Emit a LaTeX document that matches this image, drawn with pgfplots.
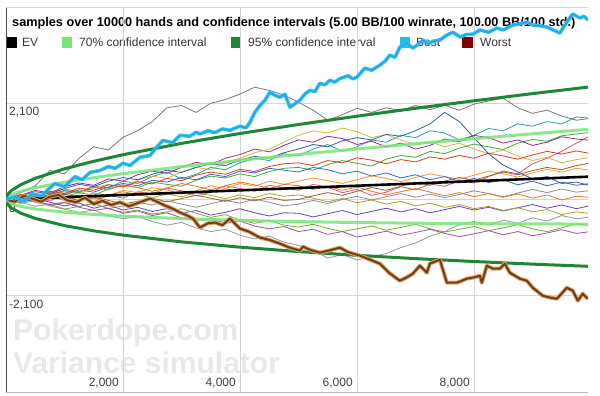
\documentclass[border=0pt]{standalone}
\usepackage{fontspec}
\setmainfont{Liberation Sans}
\usepackage{pgfplots}
\pgfplotsset{compat=1.18}
\definecolor{ci70}{RGB}{120,228,120}
\definecolor{ci95}{RGB}{30,135,55}
\definecolor{bestc}{RGB}{45,195,235}
\definecolor{bestleg}{RGB}{30,190,240}
\definecolor{worstc}{RGB}{115,60,20}
\definecolor{worsth}{RGB}{220,165,105}
\definecolor{worstleg}{RGB}{128,0,0}
\definecolor{gridc}{RGB}{212,212,212}
\definecolor{c1}{RGB}{120,120,120}
\definecolor{c2}{RGB}{40,160,170}
\definecolor{c3}{RGB}{60,170,60}
\definecolor{c4}{RGB}{225,80,120}
\definecolor{c5}{RGB}{150,40,150}
\definecolor{c6}{RGB}{200,190,60}
\definecolor{c7}{RGB}{245,150,40}
\definecolor{c8}{RGB}{60,100,200}
\definecolor{c9}{RGB}{140,140,140}
\definecolor{c10}{RGB}{225,120,40}
\definecolor{c11}{RGB}{110,60,190}
\definecolor{c12}{RGB}{170,160,40}
\definecolor{c13}{RGB}{110,175,40}
\definecolor{c14}{RGB}{150,150,150}
\definecolor{c15}{RGB}{160,80,160}
\definecolor{c16}{RGB}{215,60,30}
\definecolor{c17}{RGB}{50,95,150}
\definecolor{c18}{RGB}{150,95,50}
\begin{document}
\begin{tikzpicture}
\useasboundingbox (0pt,0pt) rectangle (600pt,396pt);
\node[anchor=base west, inner sep=0, font=\fontsize{12.7}{14}\selectfont\bfseries] at (12pt,369pt) {samples over 10000 hands and confidence intervals (5.00 BB/100 winrate, 100.00 BB/100 std.)};
\fill[black] (7pt,348pt) rectangle (17pt,359pt);
\node[anchor=base west, inner sep=0, font=\fontsize{12}{14}\selectfont, text=black!80] at (22pt,349pt) {EV};
\fill[ci70] (62pt,348pt) rectangle (72pt,359pt);
\node[anchor=base west, inner sep=0, font=\fontsize{12}{14}\selectfont, text=black!80] at (79pt,349pt) {70\% confidence interval};
\fill[ci95] (231pt,348pt) rectangle (241pt,359pt);
\node[anchor=base west, inner sep=0, font=\fontsize{12}{14}\selectfont, text=black!80] at (248pt,349pt) {95\% confidence interval};
\fill[bestleg] (400pt,348pt) rectangle (410pt,359pt);
\node[anchor=base west, inner sep=0, font=\fontsize{12}{14}\selectfont, text=black!80] at (416pt,349pt) {Best};
\fill[worstleg] (462pt,348pt) rectangle (473pt,359pt);
\node[anchor=base west, inner sep=0, font=\fontsize{12}{14}\selectfont, text=black!80] at (480pt,349pt) {Worst};
\node[anchor=base west, inner sep=0, font=\fontsize{30}{30}\selectfont\bfseries, text=black!9] at (13pt,55pt) {Pokerdope.com};
\node[anchor=base west, inner sep=0, font=\fontsize{30}{30}\selectfont\bfseries, text=black!9] at (13pt,22pt) {Variance simulator};
\begin{axis}[at={(6pt,4pt)}, anchor=south west, scale only axis, width=582pt, height=385pt,
  xmin=0, xmax=9950, ymin=-4200, ymax=4200,
  axis x line*=bottom, axis y line*=left, axis line style={-},
  x axis line style={draw=gray!55, line width=0.8pt},
  y axis line style={draw=black!70, line width=1pt},
  xtick={2000,4000,6000,8000}, ytick={-2100,0,2100},
  xmajorgrids, ymajorgrids, major grid style={draw=gridc, line width=0.8pt},
  major tick length=0pt,
  tick label style={font=\fontsize{12}{14}\selectfont, text=black!75},
  /pgf/number format/1000 sep={,}, /pgf/number format/assume math mode=true,
  xticklabel style={anchor=base east, inner sep=0pt, xshift=-4pt, yshift=5pt},
  yticklabel style={anchor=north west, inner sep=0pt, xshift=3pt, yshift=-4pt},
  extra y ticks={0}, extra y tick labels={}, extra y tick style={grid style={draw=gray!65, line width=1pt}},
  no markers,
  every axis plot/.append style={line join=round},
  thinl/.style={line width=0.8pt},
]
\draw[gridc, line width=0.8pt] (rel axis cs:0,1) -- (rel axis cs:1,1);
% thin sample lines
\addplot[thinl, c2] coordinates {(0,0)(250,80)(500,-50)(750,100)(1000,200)(1250,150)(1500,300)(1750,250)(2000,400)(2250,350)(2500,500)(2750,600)(3000,450)(3250,550)(3500,700)(3750,650)(4000,800)(4250,900)(4500,850)(4750,1000)(5000,950)(5250,1100)(5500,1200)(5750,1050)(6000,1150)(6250,1300)(6500,1250)(6750,1400)(7000,1350)(7250,1500)(7500,1450)(7750,1300)(8000,1400)(8250,1550)(8500,1500)(8750,1650)(9000,1600)(9250,1700)(9500,1650)(9750,1800)(10000,1772)};
\addplot[thinl, c3] coordinates {(0,0)(250,70)(500,-40)(750,60)(1000,190)(1250,150)(1500,90)(1750,230)(2000,310)(2250,260)(2500,380)(2750,330)(3000,290)(3250,420)(3500,510)(3750,470)(4000,560)(4250,500)(4500,610)(4750,680)(5000,700)(5250,640)(5500,760)(5750,850)(6000,790)(6250,730)(6500,880)(6750,960)(7000,920)(7250,1050)(7500,1000)(7750,1120)(8000,1210)(8250,1150)(8500,1090)(8750,1230)(9000,1310)(9250,1270)(9500,1390)(9750,1430)(10000,1466)};
\addplot[thinl, c4] coordinates {(0,0)(250,-80)(500,40)(750,-30)(1000,110)(1250,60)(1500,-50)(1750,90)(2000,30)(2250,170)(2500,120)(2750,250)(3000,190)(3250,80)(3500,160)(3750,300)(4000,240)(4250,180)(4500,310)(4750,260)(5000,200)(5250,330)(5500,270)(5750,150)(6000,220)(6250,90)(6500,160)(6750,280)(7000,210)(7250,340)(7500,290)(7750,410)(8000,360)(8250,500)(8500,620)(8750,560)(9000,780)(9250,900)(9500,1050)(9750,1230)(10000,1400)};
\addplot[thinl, c5] coordinates {(0,0)(250,90)(500,200)(750,140)(1000,280)(1250,360)(1500,310)(1750,450)(2000,400)(2250,540)(2500,620)(2750,570)(3000,700)(3250,810)(3500,760)(3750,900)(4000,980)(4250,1100)(4500,1040)(4750,1180)(5000,1300)(5250,1250)(5500,1380)(5750,1330)(6000,1200)(6250,1270)(6500,1150)(6750,1230)(7000,1100)(7250,1180)(7500,1320)(7750,1260)(8000,1400)(8250,1350)(8500,1230)(8750,1300)(9000,1180)(9250,1250)(9500,1370)(9750,1320)(10000,1290)};
\addplot[thinl, c6] coordinates {(0,0)(250,50)(500,-40)(750,80)(1000,170)(1250,120)(1500,250)(1750,330)(2000,280)(2250,420)(2500,510)(2750,460)(3000,600)(3250,700)(3500,650)(3750,800)(4000,900)(4250,1020)(4500,1100)(4750,1250)(5000,1400)(5250,1500)(5500,1450)(5750,1560)(6000,1480)(6250,1350)(6500,1420)(6750,1300)(7000,1200)(7250,1260)(7500,1150)(7750,1230)(8000,1100)(8250,1000)(8500,1080)(8750,950)(9000,850)(9250,920)(9500,800)(9750,870)(10000,919)};
\addplot[thinl, c7] coordinates {(0,0)(250,60)(500,130)(750,70)(1000,-20)(1250,50)(1500,140)(1750,90)(2000,200)(2250,150)(2500,260)(2750,210)(3000,120)(3250,190)(3500,300)(3750,240)(4000,350)(4250,290)(4500,400)(4750,330)(5000,400)(5250,470)(5500,410)(5750,350)(6000,430)(6250,520)(6500,460)(6750,390)(7000,480)(7250,560)(7500,500)(7750,440)(8000,530)(8250,620)(8500,560)(8750,490)(9000,580)(9250,660)(9500,600)(9750,680)(10000,634)};
\addplot[thinl, c8] coordinates {(0,0)(250,-50)(500,60)(750,150)(1000,100)(1250,210)(1500,160)(1750,270)(2000,350)(2250,300)(2500,420)(2750,380)(3000,480)(3250,430)(3500,550)(3750,500)(4000,620)(4250,580)(4500,680)(4750,640)(5000,600)(5250,700)(5500,650)(5750,560)(6000,620)(6250,510)(6500,580)(6750,470)(7000,540)(7250,430)(7500,500)(7750,390)(8000,460)(8250,370)(8500,430)(8750,320)(9000,400)(9250,300)(9500,380)(9750,310)(10000,350)};
\addplot[thinl, c9] coordinates {(0,0)(250,40)(500,-60)(750,-130)(1000,-70)(1250,-150)(1500,-90)(1750,-200)(2000,-140)(2250,-60)(2500,-120)(2750,-30)(3000,-100)(3250,-170)(3500,-90)(3750,-20)(4000,-80)(4250,10)(4500,-60)(4750,-140)(5000,-100)(5250,-20)(5500,-90)(5750,0)(6000,70)(6250,-10)(6500,60)(6750,130)(7000,50)(7250,120)(7500,40)(7750,110)(8000,190)(8250,130)(8500,60)(8750,140)(9000,220)(9250,150)(9500,230)(9750,160)(10000,197)};
\addplot[thinl, c10] coordinates {(0,0)(250,90)(500,40)(750,150)(1000,230)(1250,170)(1500,270)(1750,210)(2000,320)(2250,260)(2500,180)(2750,250)(3000,350)(3250,290)(3500,210)(3750,300)(4000,380)(4250,320)(4500,240)(4750,330)(5000,300)(5250,220)(5500,290)(5750,200)(6000,270)(6250,180)(6500,100)(6750,170)(7000,240)(7250,160)(7500,80)(7750,150)(8000,60)(8250,130)(8500,50)(8750,120)(9000,30)(9250,100)(9500,-10)(9750,70)(10000,44)};
\addplot[thinl, c11] coordinates {(0,0)(250,-70)(500,20)(750,-60)(1000,-140)(1250,-80)(1500,-190)(1750,-120)(2000,-230)(2250,-170)(2500,-260)(2750,-200)(3000,-300)(3250,-240)(3500,-340)(3750,-280)(4000,-200)(4250,-290)(4500,-360)(4750,-290)(5000,-300)(5250,-380)(5500,-310)(5750,-240)(6000,-330)(6250,-260)(6500,-190)(6750,-270)(7000,-200)(7250,-290)(7500,-220)(7750,-150)(8000,-230)(8250,-170)(8500,-250)(8750,-180)(9000,-110)(9250,-190)(9500,-120)(9750,-200)(10000,-131)};
\addplot[thinl, c12] coordinates {(0,0)(250,30)(500,110)(750,50)(1000,140)(1250,80)(1500,10)(1750,90)(2000,170)(2250,110)(2500,40)(2750,120)(3000,60)(3250,150)(3500,90)(3750,20)(4000,100)(4250,40)(4500,130)(4750,70)(5000,100)(5250,30)(5500,-50)(5750,20)(6000,-70)(6250,-10)(6500,-100)(6750,-40)(7000,-140)(7250,-80)(7500,-170)(7750,-110)(8000,-200)(8250,-150)(8500,-240)(8750,-180)(9000,-270)(9250,-220)(9500,-330)(9750,-270)(10000,-306)};
\addplot[thinl, c13] coordinates {(0,0)(250,-80)(500,-30)(750,-140)(1000,-210)(1250,-150)(1500,-90)(1750,-200)(2000,-280)(2250,-230)(2500,-320)(2750,-270)(3000,-200)(3250,-300)(3500,-390)(3750,-330)(4000,-450)(4250,-520)(4500,-460)(4750,-560)(5000,-600)(5250,-540)(5500,-630)(5750,-700)(6000,-640)(6250,-580)(6500,-670)(6750,-610)(7000,-540)(7250,-640)(7500,-710)(7750,-650)(8000,-590)(8250,-680)(8500,-620)(8750,-550)(9000,-640)(9250,-700)(9500,-620)(9750,-530)(10000,-569)};
\addplot[thinl, c14] coordinates {(0,0)(250,-60)(500,-150)(750,-100)(1000,-210)(1250,-280)(1500,-230)(1750,-350)(2000,-420)(2250,-370)(2500,-480)(2750,-560)(3000,-500)(3250,-620)(3500,-700)(3750,-650)(4000,-780)(4250,-860)(4500,-800)(4750,-930)(5000,-1000)(5250,-1100)(5500,-1280)(5750,-1200)(6000,-1320)(6250,-1250)(6500,-1180)(6750,-1050)(7000,-950)(7250,-800)(7500,-700)(7750,-550)(8000,-480)(8250,-560)(8500,-450)(8750,-520)(9000,-400)(9250,-470)(9500,-350)(9750,-420)(10000,-380)};
\addplot[thinl, c15] coordinates {(0,0)(250,50)(500,-40)(750,-110)(1000,-60)(1250,-170)(1500,-240)(1750,-190)(2000,-300)(2250,-250)(2500,-350)(2750,-290)(3000,-400)(3250,-460)(3500,-410)(3750,-520)(4000,-470)(4250,-580)(4500,-640)(4750,-590)(5000,-700)(5250,-650)(5500,-760)(5750,-700)(6000,-820)(6250,-760)(6500,-690)(6750,-780)(7000,-720)(7250,-650)(7500,-740)(7750,-810)(8000,-750)(8250,-680)(8500,-770)(8750,-700)(9000,-790)(9250,-730)(9500,-660)(9750,-740)(10000,-700)};
\addplot[thinl, c16] coordinates {(0,0)(250,110)(500,60)(750,180)(1000,130)(1250,250)(1500,200)(1750,320)(2000,270)(2250,390)(2500,340)(2750,460)(3000,410)(3250,530)(3500,600)(3750,550)(4000,660)(4250,610)(4500,720)(4750,780)(5000,800)(5250,740)(5500,850)(5750,800)(6000,910)(6250,860)(6500,780)(6750,870)(7000,820)(7250,930)(7500,880)(7750,960)(8000,900)(8250,1010)(8500,950)(8750,880)(9000,970)(9250,1050)(9500,990)(9750,1060)(10000,1000)};
\addplot[thinl, c17] coordinates {(0,0)(250,80)(500,170)(750,120)(1000,240)(1250,330)(1500,280)(1750,400)(2000,480)(2250,430)(2500,550)(2750,640)(3000,590)(3250,700)(3500,780)(3750,740)(4000,860)(4250,940)(4500,900)(4750,1020)(5000,1100)(5250,1200)(5500,1150)(5750,1280)(6000,1350)(6250,1300)(6500,1420)(6750,1380)(7000,1500)(7250,1650)(7500,1900)(7750,1700)(8000,1350)(8250,1000)(8500,750)(8750,600)(9000,450)(9250,500)(9500,350)(9750,380)(10000,300)};
\addplot[thinl, c18] coordinates {(0,0)(250,-50)(500,40)(750,110)(1000,60)(1250,-30)(1500,50)(1750,-20)(2000,-100)(2250,-40)(2500,30)(2750,-50)(3000,20)(3250,90)(3500,30)(3750,-40)(4000,40)(4250,-30)(4500,50)(4750,-20)(5000,0)(5250,80)(5500,150)(5750,90)(6000,180)(6250,260)(6500,200)(6750,290)(7000,370)(7250,310)(7500,400)(7750,480)(8000,420)(8250,510)(8500,600)(8750,540)(9000,630)(9250,700)(9500,650)(9750,740)(10000,800)};
\addplot[thinl, c1] coordinates {(0,0)(250,150)(500,300)(750,634)(1000,560)(1250,900)(1500,1150)(1750,1080)(2000,1356)(2250,1500)(2500,1700)(2750,2000)(3000,2050)(3250,1900)(3500,2100)(3750,2180)(4000,2300)(4250,2450)(4500,2380)(4750,2280)(5000,2122)(5250,1950)(5500,1728)(5750,1850)(6000,1991)(6250,1900)(6500,2000)(6750,1940)(7000,2050)(7250,1960)(7500,2056)(7750,1947)(8000,2080)(8250,2150)(8500,2209)(8750,2000)(9000,1880)(9250,1950)(9500,1820)(9750,1730)(10000,1772)};
% confidence intervals
\addplot[ci70, line width=3pt, opacity=0.85] coordinates {(0,0)(10,33)(25,53)(50,76)(100,109)(250,176)(500,257)(1000,378)(1500,476)(2000,563)(3000,717)(4000,855)(5000,983)(6000,1103)(7000,1217)(8000,1327)(9000,1433)(10000,1536)};
\addplot[ci70, line width=3pt, opacity=0.85] coordinates {(0,0)(10,-32)(25,-51)(50,-71)(100,-99)(250,-151)(500,-207)(1000,-278)(1500,-326)(2000,-363)(3000,-417)(4000,-455)(5000,-483)(6000,-503)(7000,-517)(8000,-527)(9000,-533)(10000,-536)};
\addplot[ci95, line width=3pt] coordinates {(0,0)(10,62)(25,99)(50,141)(100,201)(250,322)(500,463)(1000,670)(1500,834)(2000,977)(3000,1224)(4000,1440)(5000,1636)(6000,1818)(7000,1990)(8000,2153)(9000,2310)(10000,2460)};
\addplot[ci95, line width=3pt] coordinates {(0,0)(10,-61)(25,-97)(50,-136)(100,-191)(250,-297)(500,-413)(1000,-570)(1500,-684)(2000,-777)(3000,-924)(4000,-1040)(5000,-1136)(6000,-1218)(7000,-1290)(8000,-1353)(9000,-1410)(10000,-1460)};
\addplot[black, line width=2.6pt] coordinates {(0,0)(10000,500)};
% worst
\pgfplotstableread{
x y
0 0
150 -50
300 80
450 20
600 -50
750 60
900 100
1050 -20
1200 -60
1350 40
1500 -100
1650 -30
1800 -120
1950 -60
2100 -150
2250 -80
2461 22
2600 -60
2717 -131
2850 -200
2974 -284
3100 -350
3200 -420
3315 -613
3450 -520
3572 -503
3700 -560
3828 -416
3999 -634
4150 -700
4341 -831
4500 -880
4683 -963
4850 -1050
5024 -1116
5076 -1028
5200 -1100
5366 -1159
5500 -1120
5708 -1050
5850 -1150
6050 -1225
6200 -1300
6392 -1400
6550 -1600
6733 -1772
6850 -1700
6956 -1619
7075 -1444
7195 -1597
7246 -1400
7417 -1313
7537 -1816
7708 -1816
7878 -1728
8000 -1700
8101 -1663
8135 -1816
8220 -1444
8323 -1509
8442 -1509
8528 -1400
8613 -1597
8784 -1728
8904 -1772
9006 -1925
9177 -2100
9300 -2140
9416 -2166
9500 -2050
9587 -1925
9690 -1991
9775 -2209
9860 -2056
9946 -2166
}\worst
\addplot[worsth, line width=4pt] table {\worst};
\addplot[worstc, line width=2pt] table {\worst};
% best
\pgfplotstableread{
x y
0 0
150 60
300 -40
450 120
600 80
837 350
1000 280
1179 500
1300 430
1436 591
1606 634
1750 720
1863 680
2000 790
2119 744
2290 919
2461 960
2580 1150
2683 1291
2850 1240
2974 1400
3145 1380
3250 1470
3315 1430
3450 1500
3572 1460
3700 1540
3828 1510
3999 1600
4100 1560
4170 1684
4255 1903
4341 2050
4426 2166
4512 2341
4597 2275
4683 2231
4768 2300
4854 2013
5024 2166
5110 2300
5195 2384
5280 2350
5366 2538
5450 2500
5537 2603
5620 2560
5708 2640
5850 2700
5930 2630
5998 2669
6135 2866
6250 2820
6392 2931
6480 3020
6563 3150
6650 3100
6733 3325
6853 3413
6956 3303
7040 3380
7127 3478
7220 3400
7300 3450
7417 3478
7537 3588
7639 3653
7759 3544
7870 3600
7981 3609
8101 3697
8250 3650
8391 3741
8500 3700
8665 3806
8780 3830
8904 3872
9006 3806
9130 3790
9245 3763
9350 3700
9468 3631
9587 3872
9690 4047
9809 3959
9880 4000
9950 3916
}\best
\addplot[bestc, line width=3.5pt] table {\best};
\addplot[bestc!80!blue, line width=1pt] table {\best};
\end{axis}
\end{tikzpicture}
\end{document}
